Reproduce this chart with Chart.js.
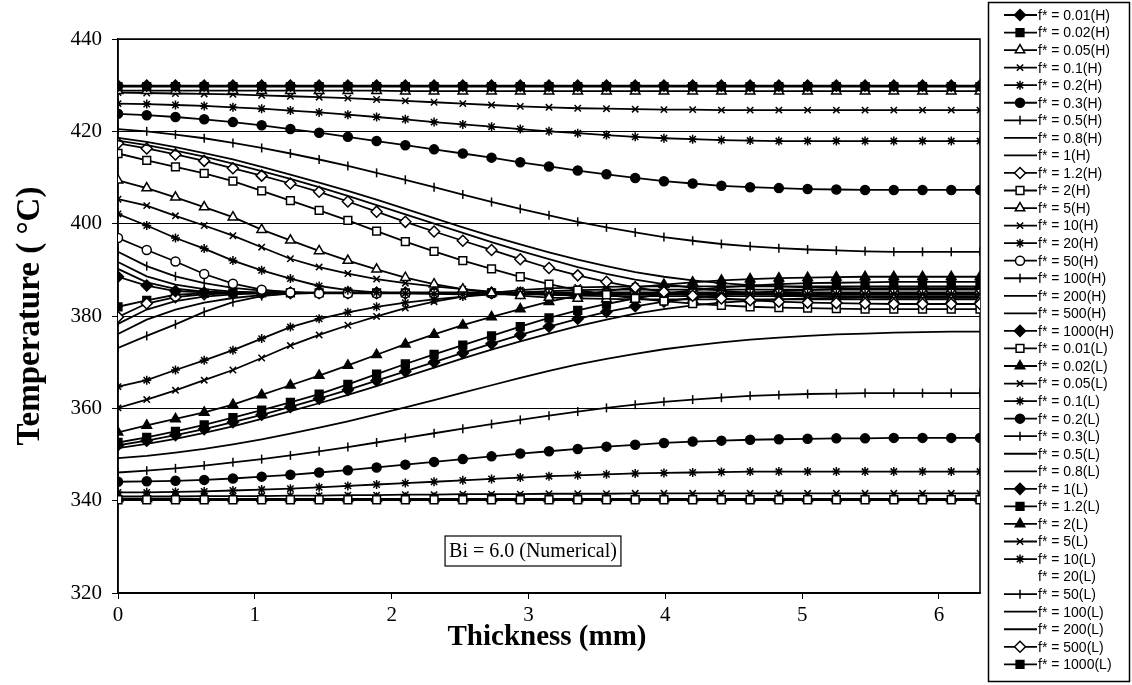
<!DOCTYPE html>
<html>
<head>
<meta charset="utf-8">
<script src="https://cdn.jsdelivr.net/npm/chart.js@4.4.1/dist/chart.umd.min.js"></script>
<style>
  html, body { margin: 0; padding: 0; background: #fff; }
  canvas { display: block; }
</style>
</head>
<body>
<canvas id="chart" width="1132" height="685"></canvas>
<script>
// thickness positions (mm) of the numerical nodes
const thickness = [0, 0.21, 0.42, 0.63, 0.84, 1.05, 1.26, 1.47, 1.68, 1.89, 2.1, 2.31, 2.52, 2.73, 2.94, 3.15, 3.36, 3.57, 3.78, 3.99, 4.2, 4.41, 4.62, 4.83, 5.04, 5.25, 5.46, 5.67, 5.88, 6.09, 6.3];

const yTicks = [320, 340, 360, 380, 400, 420, 440];
const xTicks = [0, 1, 2, 3, 4, 5, 6];

// ---- high-side (H) profiles, deg C ----
const tH_0_01 = [429.9, 429.9, 429.9, 429.9, 429.9, 429.9, 429.9, 429.9, 429.9, 429.9, 429.9, 429.9, 429.9, 429.9, 429.9, 429.9, 429.9, 429.9, 429.9, 429.9, 429.9, 429.9, 429.9, 429.9, 429.9, 429.9, 429.9, 429.9, 429.9, 429.9, 429.9];
const tH_0_02 = [429.7, 429.7, 429.7, 429.7, 429.7, 429.7, 429.7, 429.7, 429.7, 429.7, 429.7, 429.7, 429.7, 429.7, 429.7, 429.7, 429.7, 429.7, 429.7, 429.7, 429.7, 429.7, 429.7, 429.7, 429.7, 429.7, 429.7, 429.7, 429.7, 429.7, 429.7];
const tH_0_05 = [428.8, 428.8, 428.8, 428.8, 428.8, 428.8, 428.8, 428.8, 428.8, 428.8, 428.7, 428.7, 428.7, 428.7, 428.7, 428.7, 428.7, 428.7, 428.7, 428.7, 428.7, 428.7, 428.7, 428.7, 428.7, 428.7, 428.7, 428.7, 428.7, 428.7, 428.7];
const tH_0_1 = [428.4, 428.3, 428.2, 428.1, 428.0, 427.8, 427.6, 427.4, 427.2, 426.9, 426.6, 426.3, 426.0, 425.7, 425.4, 425.2, 425.0, 424.9, 424.8, 424.7, 424.7, 424.6, 424.6, 424.6, 424.6, 424.6, 424.6, 424.6, 424.6, 424.6, 424.6];
const tH_0_2 = [426.0, 425.9, 425.7, 425.5, 425.2, 424.9, 424.5, 424.1, 423.6, 423.1, 422.6, 422.0, 421.5, 421.0, 420.5, 420.0, 419.6, 419.2, 418.8, 418.5, 418.3, 418.1, 418.0, 417.9, 417.9, 417.9, 417.9, 417.9, 417.9, 417.9, 417.9];
const tH_0_3 = [423.8, 423.5, 423.1, 422.6, 422.0, 421.3, 420.5, 419.7, 418.8, 417.9, 417.0, 416.1, 415.2, 414.3, 413.3, 412.4, 411.5, 410.7, 409.9, 409.2, 408.7, 408.2, 407.9, 407.7, 407.5, 407.4, 407.3, 407.3, 407.3, 407.3, 407.3];
const tH_0_5 = [420.5, 420.0, 419.3, 418.5, 417.5, 416.4, 415.2, 413.9, 412.5, 411.0, 409.5, 407.9, 406.3, 404.7, 403.2, 401.8, 400.4, 399.2, 398.1, 397.1, 396.3, 395.6, 395.1, 394.7, 394.4, 394.2, 394.0, 393.9, 393.9, 393.9, 393.9];
const tH_0_8 = [418.6, 417.7, 416.6, 415.3, 413.9, 412.3, 410.6, 408.9, 407.1, 405.2, 403.2, 401.2, 399.2, 397.3, 395.5, 393.8, 392.2, 390.8, 389.5, 388.5, 387.7, 387.1, 386.7, 386.4, 386.2, 386.1, 386.0, 386.0, 386.0, 386.0, 386.0];
const tH_1 = [418.0, 417.0, 415.8, 414.5, 413.0, 411.4, 409.7, 407.9, 406.0, 404.0, 402.0, 400.0, 398.0, 396.0, 394.1, 392.3, 390.6, 389.1, 387.9, 386.9, 386.1, 385.5, 385.0, 384.6, 384.4, 384.2, 384.1, 384.0, 384.0, 384.0, 384.0];
const tH_1_2 = [417.4, 416.3, 415.0, 413.6, 412.0, 410.4, 408.7, 406.9, 404.8, 402.6, 400.4, 398.3, 396.3, 394.3, 392.3, 390.4, 388.8, 387.4, 386.2, 385.2, 384.4, 383.8, 383.4, 383.1, 382.9, 382.8, 382.7, 382.6, 382.6, 382.6, 382.6];
const tH_2 = [415.2, 413.7, 412.3, 410.9, 409.2, 407.1, 405.0, 402.9, 400.7, 398.4, 396.1, 394.0, 392.0, 390.2, 388.5, 386.9, 385.6, 384.6, 383.8, 383.2, 382.7, 382.3, 382.0, 381.8, 381.7, 381.6, 381.5, 381.5, 381.5, 381.5, 381.5];
const tH_5 = [409.4, 407.7, 405.7, 403.6, 401.4, 398.7, 396.4, 394.1, 392.0, 390.1, 388.3, 386.9, 385.8, 385.0, 384.4, 384.0, 383.8, 383.7, 383.6, 383.6, 383.6, 383.6, 383.6, 383.6, 383.6, 383.6, 383.6, 383.6, 383.6, 383.6, 383.6];
const tH_10 = [405.3, 403.9, 401.7, 399.6, 397.4, 394.9, 392.4, 390.6, 389.2, 388.0, 387.1, 386.4, 385.8, 385.3, 384.9, 384.6, 384.4, 384.3, 384.3, 384.3, 384.3, 384.3, 384.3, 384.3, 384.3, 384.3, 384.3, 384.3, 384.3, 384.3, 384.3];
const tH_20 = [402.1, 399.6, 396.9, 394.6, 392.0, 389.9, 388.1, 386.5, 385.6, 385.1, 384.9, 384.8, 384.7, 384.7, 384.7, 384.7, 384.7, 384.7, 384.7, 384.7, 384.7, 384.7, 384.7, 384.7, 384.7, 384.7, 384.7, 384.7, 384.7, 384.7, 384.7];
const tH_50 = [396.9, 394.3, 391.8, 389.1, 387.0, 385.7, 385.1, 384.9, 384.9, 384.9, 384.9, 384.9, 384.9, 384.9, 384.9, 384.9, 384.9, 384.9, 384.9, 384.9, 384.9, 384.9, 384.9, 384.9, 384.9, 384.9, 384.9, 384.9, 384.9, 384.9, 384.9];
const tH_100 = [393.9, 390.8, 388.6, 387.1, 386.1, 385.5, 385.2, 385.0, 385.0, 385.0, 385.0, 385.0, 385.0, 385.0, 385.0, 385.0, 385.0, 385.0, 385.0, 385.0, 385.0, 385.0, 385.0, 385.0, 385.0, 385.0, 385.0, 385.0, 385.0, 385.0, 385.0];
const tH_200 = [391.7, 388.6, 386.8, 385.8, 385.3, 385.1, 385.0, 385.0, 385.0, 385.0, 385.0, 385.0, 385.0, 385.0, 385.0, 385.0, 385.0, 385.0, 385.0, 385.0, 385.0, 385.0, 385.0, 385.0, 385.0, 385.0, 385.0, 385.0, 385.0, 385.0, 385.0];
const tH_500 = [390.2, 387.3, 385.9, 385.3, 385.1, 385.0, 385.0, 385.0, 385.0, 385.0, 385.0, 385.0, 385.0, 385.0, 385.0, 385.0, 385.0, 385.0, 385.0, 385.0, 385.0, 385.0, 385.0, 385.0, 385.0, 385.0, 385.0, 385.0, 385.0, 385.0, 385.0];
const tH_1000 = [388.5, 386.6, 385.4, 385.1, 385.0, 385.0, 385.0, 385.0, 385.0, 385.0, 385.0, 385.0, 385.0, 385.0, 385.0, 385.0, 385.0, 385.0, 385.0, 385.0, 385.0, 385.0, 385.0, 385.0, 385.0, 385.0, 385.0, 385.0, 385.0, 385.0, 385.0];

// ---- low-side (L) profiles, deg C ----
const tL_0_01 = [340.2, 340.2, 340.2, 340.2, 340.2, 340.2, 340.2, 340.2, 340.2, 340.2, 340.2, 340.2, 340.2, 340.2, 340.2, 340.2, 340.2, 340.2, 340.2, 340.2, 340.2, 340.2, 340.2, 340.2, 340.2, 340.2, 340.2, 340.2, 340.2, 340.2, 340.2];
const tL_0_02 = [340.4, 340.4, 340.4, 340.4, 340.4, 340.4, 340.4, 340.4, 340.4, 340.4, 340.4, 340.4, 340.4, 340.4, 340.4, 340.4, 340.4, 340.4, 340.4, 340.4, 340.4, 340.4, 340.4, 340.4, 340.4, 340.4, 340.4, 340.4, 340.4, 340.4, 340.4];
const tL_0_05 = [340.9, 340.9, 340.9, 341.0, 341.0, 341.0, 341.1, 341.1, 341.2, 341.2, 341.3, 341.3, 341.4, 341.4, 341.4, 341.5, 341.5, 341.5, 341.6, 341.6, 341.6, 341.6, 341.6, 341.6, 341.6, 341.6, 341.6, 341.6, 341.6, 341.6, 341.6];
const tL_0_1 = [341.8, 341.8, 341.9, 342.0, 342.2, 342.4, 342.6, 342.9, 343.2, 343.5, 343.8, 344.1, 344.4, 344.7, 345.0, 345.3, 345.5, 345.7, 345.9, 346.0, 346.1, 346.2, 346.3, 346.3, 346.3, 346.3, 346.3, 346.3, 346.3, 346.3, 346.3];
const tL_0_2 = [344.1, 344.2, 344.3, 344.5, 344.8, 345.2, 345.6, 346.1, 346.6, 347.2, 347.8, 348.4, 349.0, 349.6, 350.2, 350.7, 351.2, 351.7, 352.1, 352.5, 352.8, 353.0, 353.2, 353.3, 353.4, 353.5, 353.5, 353.6, 353.6, 353.6, 353.6];
const tL_0_3 = [346.1, 346.5, 347.0, 347.6, 348.3, 349.0, 349.8, 350.7, 351.6, 352.6, 353.6, 354.6, 355.6, 356.6, 357.5, 358.4, 359.3, 360.1, 360.8, 361.4, 361.9, 362.3, 362.7, 362.9, 363.1, 363.2, 363.3, 363.3, 363.3, 363.3, 363.3];
const tL_0_5 = [349.2, 349.7, 350.4, 351.2, 352.2, 353.3, 354.5, 355.8, 357.2, 358.7, 360.2, 361.8, 363.4, 365.0, 366.6, 368.1, 369.5, 370.7, 371.8, 372.8, 373.6, 374.3, 374.9, 375.3, 375.7, 376.0, 376.2, 376.4, 376.5, 376.6, 376.6];
const tL_0_8 = [351.4, 352.3, 353.4, 354.7, 356.1, 357.7, 359.4, 361.1, 362.9, 364.8, 366.8, 368.8, 370.8, 372.7, 374.5, 376.2, 377.8, 379.2, 380.5, 381.5, 382.3, 382.9, 383.3, 383.6, 383.8, 383.9, 384.0, 384.0, 384.0, 384.0, 384.0];
const tL_1 = [352.0, 353.0, 354.2, 355.5, 357.0, 358.6, 360.3, 362.1, 364.0, 366.0, 368.0, 370.0, 372.0, 374.0, 375.9, 377.7, 379.4, 380.9, 382.1, 383.1, 383.9, 384.5, 385.0, 385.4, 385.6, 385.8, 385.9, 386.0, 386.0, 386.0, 386.0];
const tL_1_2 = [352.6, 353.7, 355.0, 356.4, 358.0, 359.6, 361.3, 363.1, 365.2, 367.4, 369.6, 371.7, 373.7, 375.7, 377.7, 379.6, 381.2, 382.6, 383.8, 384.8, 385.6, 386.2, 386.6, 386.9, 387.1, 387.2, 387.3, 387.4, 387.4, 387.4, 387.4];
const tL_2 = [354.8, 356.3, 357.7, 359.1, 360.8, 362.9, 365.0, 367.1, 369.3, 371.6, 373.9, 376.0, 378.0, 379.8, 381.5, 383.1, 384.4, 385.4, 386.2, 386.8, 387.3, 387.7, 388.0, 388.2, 388.3, 388.4, 388.5, 388.5, 388.5, 388.5, 388.5];
const tL_5 = [360.1, 361.9, 363.9, 366.1, 368.3, 370.9, 373.6, 375.9, 378.0, 379.9, 381.7, 383.1, 384.2, 385.0, 385.6, 386.0, 386.2, 386.3, 386.4, 386.4, 386.4, 386.4, 386.4, 386.4, 386.4, 386.4, 386.4, 386.4, 386.4, 386.4, 386.4];
const tL_10 = [364.7, 366.1, 368.3, 370.4, 372.6, 375.1, 377.6, 379.4, 380.8, 382.0, 382.9, 383.6, 384.2, 384.7, 385.1, 385.4, 385.6, 385.7, 385.7, 385.7, 385.7, 385.7, 385.7, 385.7, 385.7, 385.7, 385.7, 385.7, 385.7, 385.7, 385.7];
const tL_20 = [367.9, 370.4, 373.1, 375.4, 378.0, 380.1, 381.9, 383.5, 384.4, 384.9, 385.1, 385.2, 385.3, 385.3, 385.3, 385.3, 385.3, 385.3, 385.3, 385.3, 385.3, 385.3, 385.3, 385.3, 385.3, 385.3, 385.3, 385.3, 385.3, 385.3, 385.3];
const tL_50 = [373.1, 375.7, 378.2, 380.9, 383.0, 384.3, 384.9, 385.1, 385.1, 385.1, 385.1, 385.1, 385.1, 385.1, 385.1, 385.1, 385.1, 385.1, 385.1, 385.1, 385.1, 385.1, 385.1, 385.1, 385.1, 385.1, 385.1, 385.1, 385.1, 385.1, 385.1];
const tL_100 = [376.1, 379.2, 381.4, 382.9, 383.9, 384.5, 384.8, 385.0, 385.0, 385.0, 385.0, 385.0, 385.0, 385.0, 385.0, 385.0, 385.0, 385.0, 385.0, 385.0, 385.0, 385.0, 385.0, 385.0, 385.0, 385.0, 385.0, 385.0, 385.0, 385.0, 385.0];
const tL_200 = [378.3, 381.4, 383.2, 384.2, 384.7, 384.9, 385.0, 385.0, 385.0, 385.0, 385.0, 385.0, 385.0, 385.0, 385.0, 385.0, 385.0, 385.0, 385.0, 385.0, 385.0, 385.0, 385.0, 385.0, 385.0, 385.0, 385.0, 385.0, 385.0, 385.0, 385.0];
const tL_500 = [379.8, 382.7, 384.1, 384.7, 384.9, 385.0, 385.0, 385.0, 385.0, 385.0, 385.0, 385.0, 385.0, 385.0, 385.0, 385.0, 385.0, 385.0, 385.0, 385.0, 385.0, 385.0, 385.0, 385.0, 385.0, 385.0, 385.0, 385.0, 385.0, 385.0, 385.0];
const tL_1000 = [382.0, 383.4, 384.6, 384.9, 385.0, 385.0, 385.0, 385.0, 385.0, 385.0, 385.0, 385.0, 385.0, 385.0, 385.0, 385.0, 385.0, 385.0, 385.0, 385.0, 385.0, 385.0, 385.0, 385.0, 385.0, 385.0, 385.0, 385.0, 385.0, 385.0, 385.0];

const seriesLabels = [
  'f* = 0.01(H)', 'f* = 0.02(H)', 'f* = 0.05(H)', 'f* = 0.1(H)', 'f* = 0.2(H)', 'f* = 0.3(H)', 'f* = 0.5(H)',
  'f* = 0.8(H)', 'f* = 1(H)', 'f* = 1.2(H)', 'f* = 2(H)', 'f* = 5(H)', 'f* = 10(H)', 'f* = 20(H)',
  'f* = 50(H)', 'f* = 100(H)', 'f* = 200(H)', 'f* = 500(H)', 'f* = 1000(H)',
  'f* = 0.01(L)', 'f* = 0.02(L)', 'f* = 0.05(L)', 'f* = 0.1(L)', 'f* = 0.2(L)', 'f* = 0.3(L)', 'f* = 0.5(L)',
  'f* = 0.8(L)', 'f* = 1(L)', 'f* = 1.2(L)', 'f* = 2(L)', 'f* = 5(L)', 'f* = 10(L)', 'f* = 20(L)',
  'f* = 50(L)', 'f* = 100(L)', 'f* = 200(L)', 'f* = 500(L)', 'f* = 1000(L)'
];
const seriesValues = [
  tH_0_01, tH_0_02, tH_0_05, tH_0_1, tH_0_2, tH_0_3, tH_0_5, tH_0_8, tH_1, tH_1_2, tH_2, tH_5, tH_10, tH_20, tH_50, tH_100, tH_200, tH_500, tH_1000,
  tL_0_01, tL_0_02, tL_0_05, tL_0_1, tL_0_2, tL_0_3, tL_0_5, tL_0_8, tL_1, tL_1_2, tL_2, tL_5, tL_10, tL_20, tL_50, tL_100, tL_200, tL_500, tL_1000
];

// marker per series (Excel b/w defaults), 'tick' = vertical dash, 'none' = plain line, 'hidden' = nothing drawn
const seriesMarkers = [
  'rectRot', 'rect', 'triangle', 'crossRot', 'star', 'circle', 'tick', 'none', 'none', 'rectRot', 'rect', 'triangle', 'crossRot', 'star', 'circle', 'tick', 'none', 'none', 'rectRot',
  'rect', 'triangle', 'crossRot', 'star', 'circle', 'tick', 'none', 'none', 'rectRot', 'rect', 'triangle', 'crossRot', 'star', 'hidden', 'tick', 'none', 'none', 'rectRot', 'rect'
];
const seriesFilled = [
  1, 1, 0, 1, 1, 1, 1, 0, 0, 0, 0, 0, 1, 1, 0, 1, 0, 0, 1,
  0, 1, 1, 1, 1, 1, 0, 0, 1, 1, 1, 1, 1, 0, 1, 0, 0, 0, 1
];

const markerRadius = { rectRot: 5.5, rect: 5.5, triangle: 5.5, crossRot: 4.5, star: 4.5, circle: 4.5, tick: 4.5 };
const serif = '"Liberation Serif", "Times New Roman", serif';
const sans = '"Liberation Sans", Arial, sans-serif';

function pointOpts(i) {
  const m = seriesMarkers[i];
  if (m === 'none' || m === 'hidden') return null;
  return {
    pointStyle: m === 'tick' ? 'line' : m,
    rotation: m === 'tick' ? 90 : 0,
    radius: markerRadius[m],
    borderWidth: 1.5
  };
}

const datasets = seriesLabels.map((label, i) => {
  const p = pointOpts(i);
  const hidden = seriesMarkers[i] === 'hidden';
  return {
    label: label,
    data: thickness.map((x, j) => ({ x: x, y: seriesValues[i][j] })),
    borderColor: hidden ? 'rgba(0,0,0,0)' : '#000',
    backgroundColor: seriesFilled[i] ? '#000' : '#fff',
    borderWidth: 1.8,
    showLine: !hidden,
    tension: 0,
    pointStyle: p ? p.pointStyle : false,
    pointRotation: p ? p.rotation : 0,
    pointRadius: p ? p.radius : 0,
    pointBorderColor: '#000',
    pointBackgroundColor: seriesFilled[i] ? '#000' : '#fff',
    pointBorderWidth: 1.5
  };
});

const extras = {
  id: 'extras',
  beforeDatasetsDraw(chart) {
    const { ctx, chartArea: a } = chart;
    ctx.save();
    ctx.strokeStyle = '#000';
    ctx.lineWidth = 1.5;
    ctx.strokeRect(a.left, a.top, a.right - a.left, a.bottom - a.top);
    ctx.restore();
  },
  afterDraw(chart) {
    const { ctx } = chart;
    ctx.save();
    ctx.fillStyle = '#000';
    ctx.strokeStyle = '#000';

    // axis titles
    ctx.font = 'bold 29px ' + serif;
    ctx.textAlign = 'center';
    ctx.textBaseline = 'middle';
    ctx.fillText('Thickness (mm)', 547, 638);
    ctx.save();
    ctx.translate(30, 316);
    ctx.rotate(-Math.PI / 2);
    ctx.font = 'bold 33px ' + serif;
    ctx.fillText('Temperature ( \u00B0C)', 0, 0);
    ctx.restore();

    // annotation box
    ctx.font = '20px ' + serif;
    const note = 'Bi = 6.0 (Numerical)';
    const w = ctx.measureText(note).width + 8;
    const cx = 533, cy = 551;
    ctx.lineWidth = 1.2;
    ctx.fillStyle = '#fff';
    ctx.fillRect(cx - w / 2, cy - 15, w, 30);
    ctx.strokeRect(cx - w / 2, cy - 15, w, 30);
    ctx.fillStyle = '#000';
    ctx.fillText(note, cx, cy + 1);

    // legend
    ctx.lineWidth = 1.5;
    ctx.strokeRect(988.5, 2.5, 141, 679);
    ctx.font = '14px ' + sans;
    ctx.textAlign = 'left';
    seriesLabels.forEach((label, i) => {
      const y = 15 + i * 17.55;
      const m = seriesMarkers[i];
      if (m !== 'hidden') {
        ctx.lineWidth = 1.8;
        ctx.beginPath();
        ctx.moveTo(1004, y);
        ctx.lineTo(1037, y);
        ctx.stroke();
      }
      const p = pointOpts(i);
      if (p) {
        ctx.fillStyle = seriesFilled[i] ? '#000' : '#fff';
        ctx.lineWidth = p.borderWidth;
        Chart.helpers.drawPoint(ctx, p, 1020, y);
      }
      ctx.fillStyle = '#000';
      ctx.fillText(label, 1038, y + 1);
    });
    ctx.restore();
  }
};

new Chart(document.getElementById('chart'), {
  type: 'line',
  data: { datasets: datasets },
  options: {
    responsive: false,
    animation: false,
    devicePixelRatio: 1,
    layout: { padding: { top: 39, right: 152, bottom: 0, left: 0 } },
    plugins: { legend: { display: false }, tooltip: { enabled: false } },
    scales: {
      x: {
        type: 'linear',
        min: 0,
        max: 6.3,
        afterBuildTicks: s => { s.ticks = xTicks.map(v => ({ value: v })); },
        afterFit: s => { s.height = 92; },
        ticks: { color: '#000', font: { family: serif, size: 21 }, padding: 4, maxRotation: 0 },
        grid: { drawOnChartArea: false, drawTicks: true, tickLength: 6, color: '#000' },
        border: { display: true, color: '#000', width: 1.5 }
      },
      y: {
        min: 320,
        max: 440,
        afterBuildTicks: s => { s.ticks = yTicks.map(v => ({ value: v })); },
        afterFit: s => { s.width = 118; },
        ticks: { color: '#000', font: { family: serif, size: 21 }, padding: 10 },
        grid: { color: '#000', lineWidth: 1, tickLength: 6 },
        border: { display: true, color: '#000', width: 1.5 }
      }
    }
  },
  plugins: [extras]
});
</script>
</body>
</html>
